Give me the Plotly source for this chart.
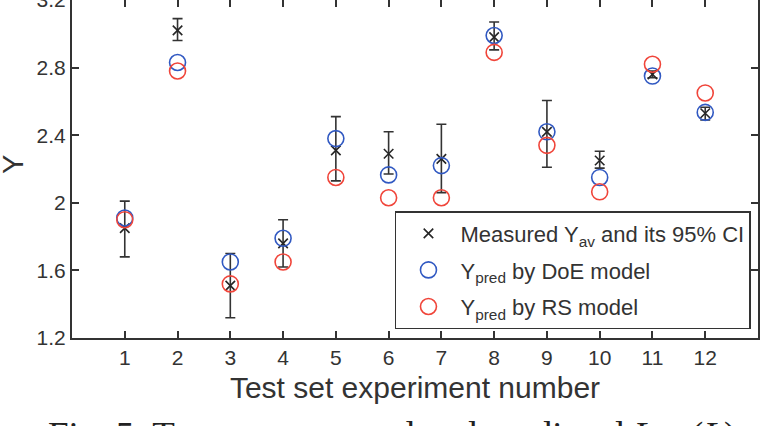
import plotly.graph_objects as go

# ---- data ----
experiment = [1, 2, 3, 4, 5, 6, 7, 8, 9, 10, 11, 12]
measured_y = [1.85, 3.02, 1.51, 1.76, 2.31, 2.29, 2.26, 2.98, 2.42, 2.25, 2.76, 2.53]
ci_low = [1.68, 2.96, 1.32, 1.62, 2.13, 2.17, 2.06, 2.905, 2.21, 2.205, 2.74, 2.49]
ci_high = [2.01, 3.09, 1.70, 1.90, 2.51, 2.42, 2.465, 3.07, 2.605, 2.305, 2.78, 2.565]
pred_doe = [1.91, 2.83, 1.65, 1.79, 2.38, 2.165, 2.22, 2.99, 2.42, 2.15, 2.75, 2.535]
pred_rs = [1.90, 2.78, 1.52, 1.65, 2.15, 2.03, 2.03, 2.89, 2.34, 2.065, 2.82, 2.65]
y_ticks = [1.2, 1.6, 2.0, 2.4, 2.8, 3.2]
y_tick_text = ["1.2", "1.6", "2", "2.4", "2.8", "3.2"]

err_plus = [h - m for h, m in zip(ci_high, measured_y)]
err_minus = [m - l for m, l in zip(measured_y, ci_low)]

FONT = "Liberation Sans, Arial, sans-serif"
AX = "#333333"
BLUE = "#3159c2"
RED = "#f0453a"

fig = go.Figure()

fig.add_trace(go.Scatter(
    x=experiment, y=measured_y, mode="markers",
    name="Measured Y<sub>av</sub> and its 95% CI",
    legendgroup="a",
    marker=dict(symbol="x-thin-open", size=9.5, color="#262626",
                line=dict(width=1.6, color="#262626")),
    error_y=dict(type="data", symmetric=False, array=err_plus, arrayminus=err_minus,
                 color="#333333", thickness=1.6, width=5),
))
fig.add_trace(go.Scatter(
    x=experiment, y=pred_doe, mode="markers",
    name="Y<sub>pred</sub> by DoE model",
    legendgroup="b",
    marker=dict(symbol="circle-open", size=16, color=BLUE, line=dict(width=1.6, color=BLUE)),
))
fig.add_trace(go.Scatter(
    x=experiment, y=pred_rs, mode="markers",
    name="Y<sub>pred</sub> by RS model",
    legendgroup="c",
    marker=dict(symbol="circle-open", size=16, color=RED, line=dict(width=1.6, color=RED)),
))
# invisible helper trace for the top tick axis
fig.add_trace(go.Scatter(x=[experiment[0]], y=[measured_y[0]], xaxis="x2", mode="markers",
                         marker=dict(opacity=0), showlegend=False, hoverinfo="skip"))

fig.update_layout(
    width=766, height=426,
    margin=dict(l=72, r=8, t=0, b=88, autoexpand=False),
    paper_bgcolor="white", plot_bgcolor="white",
    font=dict(family=FONT, color=AX),
    xaxis=dict(
        range=[0, 13], tickvals=experiment, ticks="inside", ticklen=7, tickwidth=1.5,
        tickcolor=AX, showline=True, linecolor=AX, linewidth=2, mirror=False,
        showgrid=False, zeroline=False, tickfont=dict(size=21, color=AX),
        title=dict(text="Test set experiment number", font=dict(size=30, color=AX), standoff=9),
    ),
    xaxis2=dict(
        range=[0, 13], tickvals=experiment, ticks="inside", ticklen=7, tickwidth=1.5,
        tickcolor=AX, overlaying="x", side="top", showline=False, showgrid=False,
        zeroline=False, showticklabels=False, automargin=False,
    ),
    yaxis=dict(
        range=[1.2, 3.2], tickvals=y_ticks, ticktext=y_tick_text, ticks="inside",
        ticklen=7, tickwidth=1.5, tickcolor=AX, showline=True, linecolor=AX, linewidth=2,
        mirror="ticks", showgrid=False, zeroline=False, tickfont=dict(size=21, color=AX),
        ticklabeloverflow="allow", automargin=False,
    ),
    legend=dict(
        x=0.4708, y=0.3757, xanchor="left", yanchor="top",
        bgcolor="white", bordercolor=AX, borderwidth=1.5,
        font=dict(size=22, color=AX), tracegroupgap=5, itemwidth=54,
    ),
    showlegend=True,
)

fig.add_annotation(
    text="Y", textangle=-90,
    xref="paper", yref="paper", x=-0.086, y=0.512, xanchor="center", yanchor="middle",
    showarrow=False, font=dict(family=FONT, size=29, color=AX),
)
fig.add_annotation(
    text="Fig. 5. Test set measured and predicted <i>Log</i>(<i>L</i>)",
    xref="paper", yref="paper", x=0.4665, y=-0.222, xanchor="center", yanchor="top",
    showarrow=False, font=dict(family="Liberation Serif, Times New Roman, serif", size=37, color="#222222"),
)

fig.write_html("out.html")
